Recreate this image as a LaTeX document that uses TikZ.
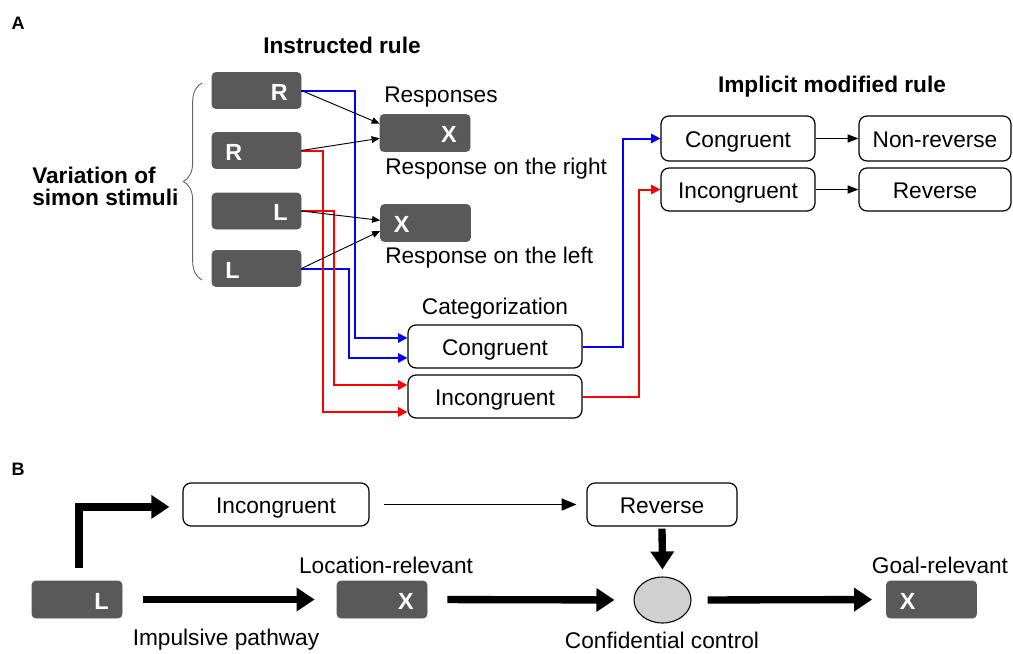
\documentclass[tikz,border=0pt]{standalone}
\usepackage{fontspec}
\setmainfont{Liberation Sans}
\usetikzlibrary{arrows.meta,decorations.pathreplacing,shapes.geometric}
\definecolor{darkfill}{HTML}{595959}
\definecolor{mblue}{HTML}{0000FF}
\definecolor{mred}{HTML}{FF0000}
\definecolor{ellgray}{HTML}{D0D0D0}
\begin{document}
\begin{tikzpicture}[x=0.75pt,y=-0.75pt,
  font=\fontsize{17}{17}\selectfont,
  stim/.style={draw=black!65, line width=0.6pt, fill=darkfill, rounded corners=3pt,
    minimum width=66.75pt, minimum height=27pt, inner xsep=10pt, inner ysep=0pt,
    text width=46.75pt, text height=14.5pt, text depth=0pt, text=white,
    font=\fontsize{17.5}{17}\selectfont\bfseries},
  stimR/.style={stim, align=right},
  stimL/.style={stim, align=left},
  wbox/.style={draw, rounded corners=6pt, line width=0.9pt, fill=white, inner sep=0pt,
    text height=13.5pt, text depth=0pt},
  lbl/.style={inner sep=0pt},
  ttl/.style={inner sep=0pt, font=\fontsize{17}{17}\selectfont\bfseries},
  thinarr/.style={-{Triangle[length=6pt,width=5pt]}, line width=0.7pt},
  midarr/.style={-{Triangle[length=8pt,width=6pt]}, line width=0.9pt},
  bluel/.style={draw=mblue, line width=1.5pt, -{Triangle[length=7pt,width=7pt]}},
  redl/.style={draw=mred, line width=1.5pt, -{Triangle[length=7pt,width=7pt]}},
  tk/.style={line width=5.5pt, line join=miter, -{Triangle[length=13.5pt,width=17pt]}},
]
\useasboundingbox (0,0) rectangle (1013,653);

% ---------- Panel A ----------
\node[ttl, font=\fontsize{13.5}{14}\selectfont\bfseries] (labA) at (18,23) {A};
\node[ttl] (instr) at (342,45) {Instructed rule};
\node[ttl, align=left, anchor=west, font=\fontsize{17}{16.5}\selectfont\bfseries] (var) at (32,186) {Variation of\\simon stimuli};

\node[stimR] (s1) at (256.5,90.5) {R};
\node[stimL] (s2) at (256.5,150.5) {R};
\node[stimR] (s3) at (256.5,211) {L};
\node[stimL] (s4) at (256.5,268.5) {L};

\draw[decorate, decoration={brace, amplitude=14pt}, black!60, line width=0.7pt] (202,280) -- (202,83);

\node[stimR, minimum width=67.5pt, text width=47.5pt, minimum height=27.75pt] (rr) at (425,133) {X};
\node[stimL, minimum width=67.5pt, text width=47.5pt, minimum height=27.75pt] (rl) at (425.5,223) {X};

\node[lbl, anchor=west] (resp) at (384,97) {Responses};
\node[lbl, anchor=west] (rright) at (385,169) {Response on the right};
\node[lbl, anchor=west] (rleft) at (385,258) {Response on the left};

\node[lbl] (categ) at (495,309) {Categorization};
\node[wbox, minimum width=130.5pt, minimum height=32.25pt] (cc) at (495,346.5) {Congruent};
\node[wbox, minimum width=130.5pt, minimum height=32.25pt] (ci) at (495,396.5) {Incongruent};

\node[ttl] (impl) at (832,87) {Implicit modified rule};
\node[wbox, minimum width=115.5pt, minimum height=33.75pt] (ic) at (738,138.5) {Congruent};
\node[wbox, minimum width=115.5pt, minimum height=32.25pt] (ii) at (738,189.5) {Incongruent};
\node[wbox, minimum width=114pt, minimum height=33.75pt] (nr) at (935,138.5) {Non-reverse};
\node[wbox, minimum width=114pt, minimum height=32.25pt] (rv) at (935,189.5) {Reverse};

% colored routing
\draw[bluel] (s1.east) -- ++(54,0) |- ([yshift=6.4pt]cc.west);
\draw[bluel] (s4.east) -- ++(48,0) |- ([yshift=-8.6pt]cc.west);
\draw[redl] (s2.east) -- ++(22,0) |- ([yshift=-11.6pt]ci.west);
\draw[redl] (s3.east) -- ++(33,0) |- ([yshift=8.6pt]ci.west);
\draw[bluel] (cc.east) -- ++(40,0) |- (ic.west);
\draw[redl] (ci.east) -- ++(56,0) |- (ii.west);

% thin black arrows
\draw[thinarr] (s1.east) -- ([yshift=7pt]rr.west);
\draw[thinarr] (s2.east) -- ([yshift=-4pt]rr.west);
\draw[thinarr] (s3.east) -- ([yshift=2pt]rl.west);
\draw[thinarr] (s4.east) -- ([yshift=-6pt]rl.west);
\draw[midarr] (ic) -- (nr);
\draw[midarr] (ii) -- (rv);

% ---------- Panel B ----------
\node[ttl, font=\fontsize{13.5}{14}\selectfont\bfseries] (labB) at (18,469) {B};
\node[wbox, minimum width=139.5pt, minimum height=32.25pt] (iB) at (276,504.5) {Incongruent};
\node[wbox, minimum width=112.5pt, minimum height=32.25pt] (rB) at (662,504.5) {Reverse};

\node[stimR, minimum width=67.5pt, text width=47.5pt, minimum height=27.75pt] (lB) at (77,599.5) {L};
\node[stimR, minimum width=67.5pt, text width=47.5pt, minimum height=27.75pt] (xB) at (382,599.5) {X};
\node[stimL, minimum width=67.5pt, text width=47.5pt, minimum height=27.75pt] (gB) at (931.5,599.5) {X};
\node[ellipse, draw, line width=0.8pt, fill=ellgray, minimum width=42.75pt, minimum height=34.5pt, inner sep=0pt] (eB) at (662.5,600) {};

\node[lbl] (locrel) at (386,565) {Location-relevant};
\node[lbl] (impp) at (226,640) {Impulsive pathway};
\node[lbl] (confc) at (662,640) {Confidential control};
\node[lbl] (goalrel) at (940,565) {Goal-relevant};

\draw[-{Triangle[length=11pt,width=9pt]}, line width=1.1pt, shorten <=10.5pt, shorten >=7.5pt] (iB.east) -- (rB.west);
\draw[tk] ([xshift=1.5pt,yshift=9.75pt]lB.north) |- ([xshift=-9.75pt,yshift=-1.8pt]iB.west);
\draw[tk, shorten <=15.75pt, shorten >=16.5pt] (lB.east) -- (xB.west);
\draw[tk, shorten <=15pt, shorten >=14.25pt] (xB.east) -- (eB.west);
\draw[tk, shorten <=12pt, shorten >=10.5pt] (eB.east) -- (gB.west);
\draw[tk, shorten <=1.5pt, shorten >=5.25pt] (rB.south) -- (eB.north);
\end{tikzpicture}
\end{document}
